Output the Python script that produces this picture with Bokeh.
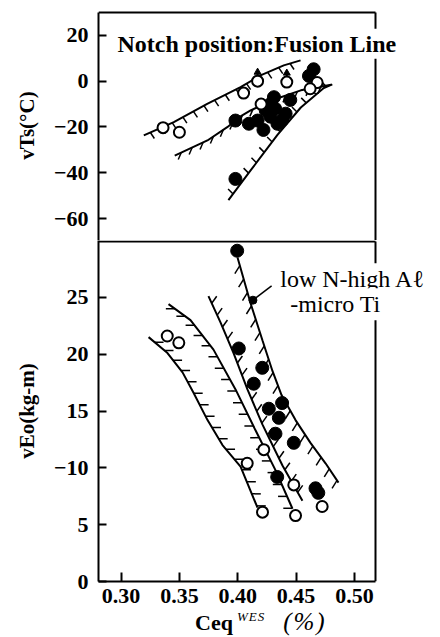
import numpy as np
from bokeh.plotting import figure
from bokeh.layouts import column
from bokeh.models import Range1d, Label, FixedTicker, Div
from bokeh.embed import file_html
from bokeh.resources import INLINE

# ---------------- data ----------------
x_ticks = [0.30, 0.35, 0.40, 0.45, 0.50]
x_tick_labels = ["0.30", "0.35", "0.40", "0.45", "0.50"]
vts_ticks = [20, 0, -20, -40, -60]
vts_tick_labels = ["20", "0", "\u221220", "\u221240", "\u221260"]
veo_ticks = [0, 5, 10, 15, 20, 25]
veo_tick_labels = ["0", "5", "\u221210", "15", "20", "25"]

# upper panel : vTs (deg C)
vts_open_x = [0.336, 0.350, 0.405, 0.417, 0.442, 0.468, 0.462, 0.420]
vts_open_y = [-20.3, -22.3, -5.2, 0.0, -0.4, -0.6, -3.3, -10.0]
vts_arrow_x = [0.417, 0.442]
vts_arrow_y = [0.0, -0.4]
vts_fill_x = [0.398, 0.4095, 0.398, 0.465, 0.461, 0.445, 0.431, 0.417, 0.422,
              0.428, 0.434, 0.438, 0.432, 0.424, 0.441, 0.428]
vts_fill_y = [-17.2, -18.6, -42.7, 5.2, 2.3, -8.2, -7.0, -17.2, -21.3,
              -15.5, -18.6, -17.0, -12.0, -12.8, -14.2, -10.0]

vts_upper_x = [0.3195, 0.3452, 0.3738, 0.4024, 0.4195, 0.4394, 0.4538]
vts_upper_y = [-23.7, -17.9, -9.9, -2.6, 2.5, 6.9, 9.1]
vts_mid_x = [0.346, 0.374, 0.391, 0.402, 0.411, 0.430, 0.454, 0.480]
vts_mid_y = [-32.5, -25.9, -20.1, -15.5, -12.8, -8.2, -4.0, -1.6]
vts_low_x = [0.392, 0.411, 0.434, 0.454, 0.4737, 0.481]
vts_low_y = [-52.0, -39.0, -23.5, -11.5, -3.0, -1.4]

# lower panel : vEo (kg-m)
veo_open_x = [0.3396, 0.3495, 0.4081, 0.4223, 0.4212, 0.448, 0.4495, 0.4723]
veo_open_y = [21.6, 21.0, 10.4, 11.6, 6.1, 8.5, 5.8, 6.6]
veo_fill_x = [0.3995, 0.4009, 0.421, 0.4137, 0.438, 0.4266, 0.4352, 0.4323,
              0.448, 0.4338, 0.4666, 0.469]
veo_fill_y = [29.1, 20.5, 18.8, 17.4, 15.7, 15.2, 14.4, 13.0,
              12.2, 9.2, 8.2, 7.8]

veo_a_x = [0.3236, 0.3398, 0.3527, 0.3621, 0.3741, 0.3869, 0.4024, 0.4169]
veo_a_y = [21.5, 20.1, 18.4, 16.6, 14.2, 12.0, 10.1, 6.5]
veo_b_x = [0.3407, 0.3595, 0.3792, 0.3981, 0.4152, 0.4323, 0.4469]
veo_b_y = [24.4, 23.0, 20.4, 16.9, 13.3, 9.8, 6.4]
veo_c_x = [0.3749, 0.3852, 0.3964, 0.4083, 0.4212, 0.4383, 0.4554]
veo_c_y = [25.1, 22.8, 20.1, 16.9, 13.8, 10.2, 7.1]
veo_d_x = [0.3998, 0.4109, 0.4212, 0.4298, 0.4375, 0.4495, 0.4623, 0.4752, 0.4863]
veo_d_y = [28.5, 24.5, 21.2, 18.5, 16.4, 14.2, 12.2, 10.4, 8.7]

# ---------------- layout constants ----------------
FONT = "Liberation Serif"
X0, XR = 0.2807, 0.518          # left frame edge / right border of the box
T0, T1 = -69.6, 30.0
B0, B1 = 0.0, 30.0
BL = 98
W = 432
SX = 277 / (XR - X0)
X1 = X0 + (W - BL) / SX         # frame extends right so notes can overhang the box
SY_TOP = 228 / (T1 - T0)
SY_BOT = 341 / (B1 - B0)


def hatch(xs, ys, sy, spacing, dpx, dpy):
    px = np.array(xs) * SX
    py = -np.array(ys) * sy
    seg = np.hypot(np.diff(px), np.diff(py))
    cum = np.concatenate([[0], np.cumsum(seg)])
    s = np.arange(spacing * 0.6, cum[-1], spacing)
    qx = np.interp(s, cum, px)
    qy = np.interp(s, cum, py)
    return (qx / SX, -qy / sy, (qx + dpx) / SX, -(qy + dpy) / sy)


def style(p):
    p.outline_line_color = None
    p.xgrid.visible = False
    p.ygrid.visible = False
    p.background_fill_color = "white"
    p.border_fill_color = "white"
    for ax in p.yaxis:
        ax.axis_line_width = 2
        ax.axis_line_color = "black"
        ax.major_tick_in = 8
        ax.major_tick_out = 0
        ax.major_tick_line_width = 2
        ax.major_tick_line_color = "black"
        ax.minor_tick_line_color = None
        ax.major_label_text_font = FONT
        ax.major_label_text_font_size = "22px"
        ax.major_label_text_font_style = "bold"
        ax.major_label_text_color = "black"
        ax.major_label_standoff = 10
        ax.axis_label_text_font = FONT
        ax.axis_label_text_font_size = "21px"
        ax.axis_label_text_font_style = "bold"
        ax.axis_label_text_color = "black"
        ax.axis_label_standoff = 12


# ---------------- upper panel ----------------
p1 = figure(width=W, height=240, output_backend="svg", toolbar_location=None,
            x_range=Range1d(X0, X1), y_range=Range1d(T0, T1 + 2 / SY_TOP),
            x_axis_location=None, min_border_left=BL, min_border_right=0,
            min_border_top=10, min_border_bottom=0)
style(p1)
p1.yaxis.ticker = FixedTicker(ticks=vts_ticks)
p1.yaxis.major_label_overrides = {t: l for t, l in zip(vts_ticks, vts_tick_labels)}
p1.yaxis.axis_label = "vTs(\u00b0C)"
p1.yaxis.bounds = (T0, T1)

# box border (top and right)
p1.segment([X0, XR], [T1, T0], [XR, XR], [T1, T1],
           line_color="black", line_width=2)

for (lx, ly, sp, dx, dy) in [(vts_upper_x, vts_upper_y, 12, 4, 6),
                             (vts_mid_x, vts_mid_y, 12, -3, 7),
                             (vts_low_x, vts_low_y, 13, -5, -5)]:
    p1.line(lx, ly, line_color="black", line_width=2)
    hx0, hy0, hx1, hy1 = hatch(lx, ly, SY_TOP, sp, dx, dy)
    p1.segment(hx0, hy0, hx1, hy1, line_color="black", line_width=1.5)

p1.scatter(vts_fill_x, vts_fill_y, size=13, marker="circle",
           fill_color="black", line_color="black")
ax_ = np.array(vts_arrow_x)
ay_ = np.array(vts_arrow_y)
p1.segment(ax_, ay_, ax_, ay_ + 10 / SY_TOP, line_color="black", line_width=2)
p1.scatter(ax_, ay_ + 9 / SY_TOP, size=7, marker="triangle",
           fill_color="black", line_color="black")
p1.scatter(vts_open_x, vts_open_y, size=11, marker="circle",
           fill_color="white", line_color="black", line_width=2)

p1.add_layout(Label(x=0.2953, y=16.3, text="Notch position:Fusion Line",
                    text_font=FONT, text_font_size="24px", text_font_style="bold",
                    text_color="black",
                    text_baseline="alphabetic", text_align="left",
                    background_fill_color="white", padding=2))

# ---------------- lower panel ----------------
p2 = figure(width=W, height=374, output_backend="svg", toolbar_location=None,
            x_range=p1.x_range, y_range=Range1d(B0, B1),
            min_border_left=BL, min_border_right=0,
            min_border_top=0, min_border_bottom=33)
style(p2)
p2.yaxis.ticker = FixedTicker(ticks=veo_ticks)
p2.yaxis.major_label_overrides = {t: l for t, l in zip(veo_ticks, veo_tick_labels)}
p2.yaxis.axis_label = "vEo(kg-m)"
xa = p2.xaxis[0]
xa.ticker = FixedTicker(ticks=x_ticks)
xa.major_label_overrides = {t: l for t, l in zip(x_ticks, x_tick_labels)}
xa.bounds = (X0, XR)
xa.axis_line_width = 2
xa.axis_line_color = "black"
xa.major_tick_in = 9
xa.major_tick_out = 0
xa.major_tick_line_width = 2
xa.major_tick_line_color = "black"
xa.minor_tick_line_color = None
xa.major_label_text_font = FONT
xa.major_label_text_font_size = "22px"
xa.major_label_text_font_style = "bold"
xa.major_label_text_color = "black"
xa.major_label_standoff = 7

# box border (top, shared with upper panel, and right)
TOPB = B1 - 1 / SY_BOT
p2.segment([X0, XR], [TOPB, B0], [XR, XR], [TOPB, TOPB],
           line_color="black", line_width=2)

for (lx, ly, sp, dx, dy) in [(veo_a_x, veo_a_y, 13, 9, 0),
                             (veo_b_x, veo_b_y, 13, -9, 0),
                             (veo_c_x, veo_c_y, 13, 5, -7),
                             (veo_d_x, veo_d_y, 14, -5, 8)]:
    p2.line(lx, ly, line_color="black", line_width=2)
    hx0, hy0, hx1, hy1 = hatch(lx, ly, SY_BOT, sp, dx, dy)
    p2.segment(hx0, hy0, hx1, hy1, line_color="black", line_width=1.5)

p2.scatter(veo_fill_x, veo_fill_y, size=13, marker="circle",
           fill_color="black", line_color="black")
p2.scatter(veo_open_x, veo_open_y, size=11, marker="circle",
           fill_color="white", line_color="black", line_width=2)

# leader from note to the band boundary
p2.segment([0.4290], [26.0], [0.4109], [24.6], line_color="black", line_width=1.5)
p2.scatter([0.4130], [24.75], size=8, marker="circle",
           fill_color="black", line_color="black")

p2.add_layout(Label(x=0.4338, y=26.6, text="low N-high A\u2113",
                    text_font=FONT, text_font_size="24px", text_color="black",
                    text_baseline="middle", text_align="left",
                    background_fill_color="white", padding=3))
p2.add_layout(Label(x=0.4424, y=24.4, text="-micro Ti",
                    text_font=FONT, text_font_size="24px", text_color="black",
                    text_baseline="middle", text_align="left",
                    background_fill_color="white", padding=3))

xtitle = Div(
    text=("<div style=\"font-family:'Liberation Serif';font-size:22px;"
          "line-height:16px;white-space:nowrap;padding-left:195px;color:black;\">"
          "<b>Ceq</b><span style=\"font-size:13px;font-style:italic;"
          "position:relative;top:-9px;padding-left:4px;letter-spacing:1px;\">WES</span>"
          "<span style=\"font-style:italic;font-size:25px;padding-left:18px;"
          "letter-spacing:2px;\">(%)</span></div>"),
    width=W, height=23, margin=0)

layout = column(p1, p2, xtitle, spacing=0)
open("out.html", "w").write(file_html(layout, INLINE))
